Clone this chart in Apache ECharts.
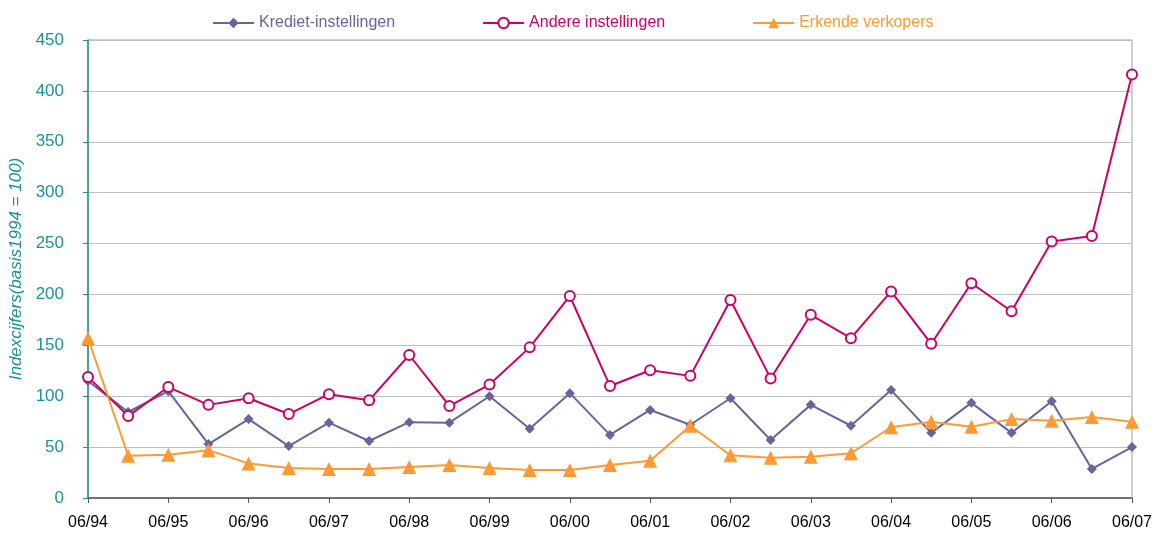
<!DOCTYPE html>
<html>
<head>
<meta charset="utf-8">
<script src="https://cdn.jsdelivr.net/npm/echarts@6/dist/echarts.min.js"></script>
<style>html,body{margin:0;padding:0;background:#fff;}#c{width:1157px;height:535px;}</style>
</head>
<body>
<div id="c"></div>
<script>
var categories = ["06/94","12/94","06/95","12/95","06/96","12/96","06/97","12/97","06/98","12/98","06/99","12/99","06/00","12/00","06/01","12/01","06/02","12/02","06/03","12/03","06/04","12/04","06/05","12/05","06/06","12/06","06/07"];
var krediet = [115,84.5,105,53,77.5,51,74,56,74.5,74,100,68,103,62,86.5,72,98,57,91.5,71,106,64,93.5,64,95,28.5,50];
var andere = [119,80.5,109,91.5,98,82.5,102,96,140.5,90.5,111.5,148,198.5,110,125.5,120,194.5,117.5,180,157,203,151.5,211,183.5,252,257.5,416];
var erkende = [157,41.5,42.5,47,34,29.5,28.5,28.5,30.5,32.5,29.5,27.5,27.5,32.5,36.5,71,42,39.5,40.5,44,69.5,75,70,77.5,76,79.5,75];
var yTicks = [0,50,100,150,200,250,300,350,400,450];

var teal = '#1A9391';
var chart = echarts.init(document.getElementById('c'));
chart.setOption({
  animation: false,
  textStyle: {fontFamily: 'Liberation Sans, Arial, sans-serif'},
  legend: {
    top: 10, left: 207, itemGap: 87, itemWidth: 41, itemHeight: 13,
    textStyle: {fontSize: 16},
    data: [
      {name: 'Krediet-instellingen', textStyle: {color: '#666699'}},
      {name: 'Andere instellingen', textStyle: {color: '#CC0066'}},
      {name: 'Erkende verkopers', textStyle: {color: '#FF9933'}}
    ]
  },
  grid: {left: 88, right: 25, top: 40, bottom: 37, containLabel: false, outerBoundsMode: 'none',
         show: true, borderColor: '#a0a0a0', borderWidth: 1},
  xAxis: {
    type: 'category', data: categories, boundaryGap: false,
    axisLine: {lineStyle: {color: '#555', width: 1.5}},
    axisTick: {interval: 1, length: 5, lineStyle: {color: '#555'}},
    axisLabel: {interval: 1, color: '#000', fontSize: 16, margin: 17}
  },
  yAxis: {
    type: 'value', min: 0, max: 450, interval: 50,
    name: 'Indexcijfers(basis1994 = 100)', nameLocation: 'middle', nameGap: 57,
    nameTextStyle: {color: teal, fontStyle: 'italic', fontSize: 17},
    axisLine: {show: true, lineStyle: {color: teal, width: 1.5}},
    axisTick: {show: true, length: 5, lineStyle: {color: teal}},
    axisLabel: {color: teal, fontSize: 17, margin: 24},
    splitLine: {lineStyle: {color: '#c0c0c0', width: 1}}
  },
  series: [
    {name: 'Krediet-instellingen', type: 'line', data: krediet, symbol: 'diamond', symbolSize: 10,
     itemStyle: {color: '#666699'}, lineStyle: {color: '#666699', width: 2}},
    {name: 'Andere instellingen', type: 'line', data: andere, symbol: 'emptyCircle', symbolSize: 10,
     itemStyle: {color: '#CC0066', borderWidth: 1.8}, lineStyle: {color: '#CC0066', width: 2}},
    {name: 'Erkende verkopers', type: 'line', data: erkende, symbol: 'triangle', symbolSize: 14,
     itemStyle: {color: '#FF9933'}, lineStyle: {color: '#FF9933', width: 2}}
  ]
});
</script>
</body>
</html>
